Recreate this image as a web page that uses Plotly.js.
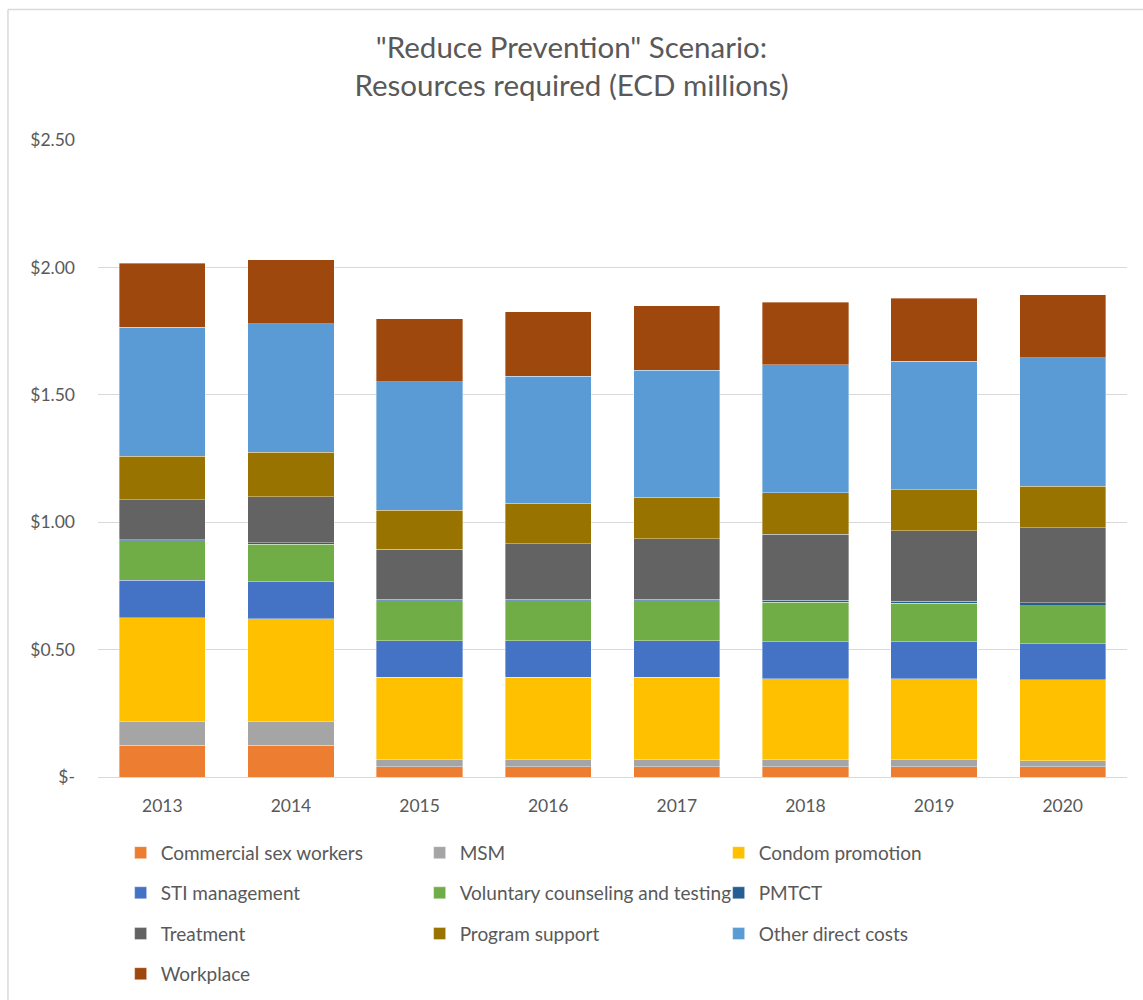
<!DOCTYPE html>
<html>
<head>
<meta charset="utf-8">
<script src="https://cdn.plot.ly/plotly-3.0.1.min.js"></script>
<style>html,body{margin:0;padding:0;background:#fff;}#chart{width:1143px;height:1000px;}</style>
</head>
<body>
<div id="chart"></div>
<script>
const years = ['2013','2014','2015','2016','2017','2018','2019','2020'];
const commercialSexWorkers = [0.124,0.124,0.041,0.041,0.041,0.041,0.041,0.041];
const msm = [0.092,0.092,0.027,0.027,0.027,0.027,0.027,0.022];
const condomPromotion = [0.409,0.405,0.323,0.323,0.323,0.318,0.318,0.319];
const stiManagement = [0.148,0.146,0.144,0.144,0.144,0.145,0.145,0.140];
const voluntaryCounseling = [0.154,0.147,0.157,0.157,0.157,0.155,0.150,0.151];
const pmtct = [0.005,0.005,0.005,0.005,0.005,0.008,0.008,0.011];
const treatment = [0.156,0.180,0.196,0.219,0.238,0.259,0.278,0.295];
const programSupport = [0.171,0.176,0.154,0.159,0.162,0.162,0.161,0.162];
const otherDirectCosts = [0.507,0.503,0.504,0.498,0.499,0.502,0.503,0.504];
const workplace = [0.251,0.253,0.247,0.252,0.253,0.247,0.247,0.247];

const tickVals = [0,0.5,1,1.5,2,2.5];
const tickText = ['$-','$0.50','$1.00','$1.50','$2.00','$2.50'];

const seriesNames = ['Commercial sex workers','MSM','Condom promotion','STI management','Voluntary counseling and testing','PMTCT','Treatment','Program support','Other direct costs','Workplace'];
const seriesValues = [commercialSexWorkers,msm,condomPromotion,stiManagement,voluntaryCounseling,pmtct,treatment,programSupport,otherDirectCosts,workplace];
const seriesColors = ['#ED7D31','#A5A5A5','#FFC000','#4472C4','#70AD47','#255E91','#636363','#997300','#5B9BD5','#9E480E'];
const legendIds = ['legend','legend','legend','legend2','legend2','legend2','legend3','legend3','legend3','legend4'];

const FONT = 'Lato, "Open Sans", sans-serif';
const GRAY = '#595959';

const traces = seriesNames.map((n,i)=>({
  type:'bar', name:n, x:years, y:seriesValues[i],
  marker:{color:seriesColors[i], line:{color:'rgba(255,255,255,0.6)', width:0.6}},
  legend: legendIds[i],
  hoverinfo:'x+y+name'
}));

function mkLegend(y){
  return {orientation:'h', traceorder:'normal', x:0.022, xanchor:'left', y:y, yanchor:'middle',
    font:{family:FONT, size:19, color:GRAY}, entrywidth:254, entrywidthmode:'pixels',
    bgcolor:'rgba(0,0,0,0)'};
}

const layout = {
  width:1143, height:1000,
  margin:{l:98, r:16, t:140, b:223, autoexpand:false},
  paper_bgcolor:'#fff', plot_bgcolor:'#fff',
  title:{text:'"Reduce Prevention" Scenario:<br>Resources required (ECD millions)', x:0.5, xanchor:'center', y:0.942, yanchor:'middle',
    font:{family:FONT, size:29.5, color:GRAY}},
  barmode:'stack', bargap:0.33,
  xaxis:{type:'category', tickfont:{family:FONT, size:17.5, color:GRAY}, showgrid:false, showline:false, ticks:'', ticklabelstandoff:16},
  yaxis:{range:[0,2.5], tickvals:tickVals, ticktext:tickText, tickfont:{family:FONT, size:17.5, color:GRAY},
    showgrid:true, gridcolor:'#D9D9D9', gridwidth:1, zeroline:true, zerolinecolor:'#D9D9D9', zerolinewidth:1,
    ticks:'', ticklabelstandoff:22, fixedrange:true},
  legend:mkLegend(-0.119),
  legend2:mkLegend(-0.182),
  legend3:mkLegend(-0.246),
  legend4:mkLegend(-0.309),
  shapes:[
    {type:'line', xref:'paper', yref:'paper', x0:-0.0875, x1:1.2, y0:1.205, y1:1.205, line:{color:'#D9D9D9', width:1.5}},
    {type:'line', xref:'paper', yref:'paper', x0:-0.0875, x1:-0.0875, y0:1.205, y1:-0.4, line:{color:'#D9D9D9', width:1.5}}
  ],
  showlegend:true
};

Plotly.newPlot('chart', traces, layout, {displayModeBar:false});
</script>
</body>
</html>
